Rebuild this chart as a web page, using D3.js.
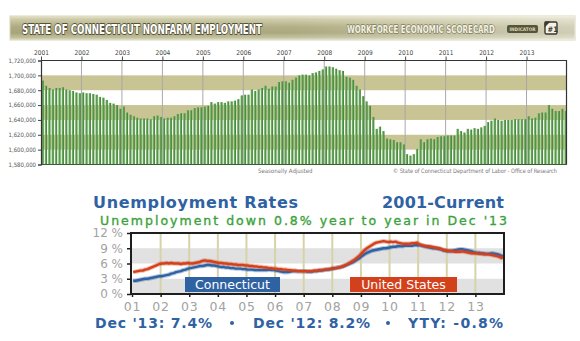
<!DOCTYPE html>
<html>
<head>
<meta charset="utf-8">
<script src="https://cdn.jsdelivr.net/npm/d3@7"></script>
<style>
  html, body { margin: 0; padding: 0; background: #ffffff; }
  svg { display: block; }
</style>
</head>
<body>
<svg id="chart" width="580" height="341"></svg>
<script>
// ---- Nonfarm employment, seasonally adjusted (thousands of jobs), Jan 2001 - Dec 2013 ----
const empYears = [2001, 2002, 2003, 2004, 2005, 2006, 2007, 2008, 2009, 2010, 2011, 2012, 2013];
const empTicks = [1580, 1600, 1620, 1640, 1660, 1680, 1700, 1720];
const employment = [
  1693, 1686, 1683, 1681, 1683, 1683, 1684, 1681, 1680, 1679, 1677, 1676,
  1677, 1676, 1676, 1675, 1674, 1671, 1670, 1667, 1663, 1662, 1660, 1655,
  1658, 1650, 1647, 1645, 1643, 1642, 1642, 1642, 1641, 1645, 1646, 1644,
  1642, 1643, 1643, 1645, 1648, 1649, 1649, 1653, 1653, 1656, 1657, 1657,
  1658, 1659, 1664, 1662, 1664, 1664, 1663, 1665, 1665, 1666, 1668, 1673,
  1674, 1674, 1681, 1679, 1681, 1683, 1686, 1682, 1685, 1685, 1691, 1692,
  1692, 1690, 1694, 1697, 1700, 1701, 1701, 1700, 1703, 1704, 1706, 1708,
  1712, 1712, 1711, 1709, 1707, 1706, 1698, 1697, 1694, 1686, 1681, 1672,
  1665, 1659, 1644, 1628, 1631, 1625, 1615, 1614, 1613, 1610, 1610, 1607,
  1594, 1592, 1594, 1601, 1614, 1610, 1614, 1615, 1614, 1617, 1618, 1618,
  1619, 1619, 1619, 1628, 1625, 1623, 1628, 1627, 1629, 1628, 1630, 1632,
  1637, 1639, 1642, 1640, 1639, 1640, 1640, 1640, 1641, 1641, 1641, 1641,
  1645, 1642, 1643, 1649, 1650, 1650, 1660, 1655, 1652, 1652, 1655, 1652
];

// ---- Unemployment rates (%), monthly Jan 2001 - Dec 2013 ----
const rateYearLabels = ["01", "02", "03", "04", "05", "06", "07", "08", "09", "10", "11", "12", "13"];
const rateTicks = [0, 3, 6, 9, 12];
const ctRate = [
  2.6, 2.6, 2.7, 2.8, 2.9, 3.0, 3.0, 3.1, 3.2, 3.3, 3.4, 3.5,
  3.5, 3.6, 3.7, 3.8, 4.0, 4.1, 4.3, 4.4, 4.5, 4.7, 4.8, 5.0,
  5.1, 5.2, 5.3, 5.4, 5.5, 5.5, 5.6, 5.7, 5.7, 5.6, 5.6, 5.5,
  5.4, 5.3, 5.3, 5.2, 5.2, 5.1, 5.1, 5.0, 5.0, 5.0, 4.9, 4.9,
  4.8, 4.8, 4.8, 4.7, 4.7, 4.7, 4.7, 4.7, 4.7, 4.8, 4.7, 4.7,
  4.6, 4.5, 4.4, 4.3, 4.3, 4.3, 4.4, 4.5, 4.5, 4.5, 4.5, 4.5,
  4.5, 4.4, 4.4, 4.4, 4.5, 4.5, 4.6, 4.6, 4.7, 4.8, 4.8, 4.9,
  5.0, 5.1, 5.2, 5.3, 5.4, 5.6, 5.8, 6.0, 6.2, 6.5, 6.8, 7.1,
  7.5, 7.8, 8.1, 8.3, 8.5, 8.6, 8.7, 8.8, 8.9, 9.0, 9.0, 9.1,
  9.2, 9.3, 9.3, 9.4, 9.4, 9.4, 9.5, 9.5, 9.5, 9.5, 9.6, 9.6,
  9.6, 9.5, 9.4, 9.3, 9.2, 9.1, 9.0, 9.0, 8.9, 8.8, 8.6, 8.5,
  8.4, 8.4, 8.5, 8.6, 8.7, 8.8, 8.8, 8.7, 8.6, 8.5, 8.4, 8.2,
  8.1, 8.1, 8.0, 8.0, 7.9, 7.9, 8.0, 8.0, 7.9, 7.8, 7.6, 7.4
];
const usRate = [
  4.3, 4.4, 4.5, 4.6, 4.6, 4.8, 4.9, 5.1, 5.3, 5.5, 5.7, 5.9,
  6.0, 6.0, 6.1, 6.0, 6.1, 6.0, 6.0, 6.0, 5.9, 6.0, 6.0, 6.1,
  6.0, 6.0, 6.1, 6.2, 6.3, 6.5, 6.6, 6.5, 6.5, 6.4, 6.3, 6.2,
  6.1, 6.1, 6.0, 6.0, 5.9, 5.9, 5.8, 5.8, 5.7, 5.7, 5.7, 5.6,
  5.6, 5.5, 5.5, 5.4, 5.4, 5.3, 5.3, 5.2, 5.2, 5.1, 5.1, 5.0,
  5.0, 4.9, 4.9, 4.8, 4.8, 4.7, 4.7, 4.6, 4.6, 4.5, 4.5, 4.5,
  4.5, 4.5, 4.5, 4.5, 4.6, 4.6, 4.7, 4.7, 4.8, 4.8, 4.9, 5.0,
  5.1, 5.1, 5.2, 5.3, 5.5, 5.7, 5.9, 6.2, 6.5, 6.8, 7.2, 7.6,
  8.1, 8.6, 9.0, 9.3, 9.6, 9.9, 10.1, 10.2, 10.3, 10.4, 10.3, 10.2,
  10.3, 10.2, 10.3, 10.1, 10.0, 9.9, 9.9, 9.9, 9.9, 10.0, 10.0, 10.1,
  9.8, 9.6, 9.5, 9.4, 9.4, 9.3, 9.2, 9.1, 9.0, 8.9, 8.7, 8.6,
  8.5, 8.5, 8.4, 8.3, 8.3, 8.3, 8.4, 8.3, 8.2, 8.1, 8.0, 8.0,
  8.0, 7.9, 7.9, 7.8, 7.8, 7.8, 7.7, 7.6, 7.5, 7.4, 7.2, 7.0
];

const narrow = "'Liberation Sans Narrow', 'DejaVu Sans Condensed', Arial, sans-serif";
const condensed = "'DejaVu Sans Condensed', 'DejaVu Sans', sans-serif";
const wide = "'DejaVu Sans', Verdana, sans-serif";

const svg = d3.select("#chart");
const defs = svg.append("defs");

// ---------- gradients ----------
const bannerGrad = defs.append("linearGradient").attr("id", "bannerGrad")
  .attr("x1", 0).attr("y1", 0).attr("x2", 0).attr("y2", 1);
[[0, "#e9e8d3"], [0.12, "#cfcca9"], [0.45, "#aeab80"], [0.7, "#a7a479"], [0.9, "#c2bf9c"], [1, "#e2e1cb"]]
  .forEach(([o, c]) => bannerGrad.append("stop").attr("offset", o).attr("stop-color", c));

const bannerShine = defs.append("linearGradient").attr("id", "bannerShine")
  .attr("x1", 0).attr("y1", 0).attr("x2", 1).attr("y2", 0);
[[0, 0], [0.5, 0.05], [1, 0.45]]
  .forEach(([o, a]) => bannerShine.append("stop").attr("offset", o).attr("stop-color", "#ffffff").attr("stop-opacity", a));

const barGrad = defs.append("linearGradient").attr("id", "barGrad")
  .attr("x1", 0).attr("y1", 0).attr("x2", 1).attr("y2", 0);
[[0, "#9ad08b"], [0.4, "#62a455"], [1, "#3c7a33"]]
  .forEach(([o, c]) => barGrad.append("stop").attr("offset", o).attr("stop-color", c));

// ---------- banner ----------
const banner = svg.append("g");
banner.append("rect").attr("x", 10).attr("y", 16).attr("width", 565).attr("height", 24)
  .attr("fill", "url(#bannerGrad)").attr("stroke", "#d8d6bd").attr("stroke-width", 1);
banner.append("rect").attr("x", 10).attr("y", 16).attr("width", 565).attr("height", 24)
  .attr("fill", "url(#bannerShine)");

// tall condensed lettering: small font stretched vertically
banner.append("g").attr("transform", "translate(22,33.5) scale(1,1.5)")
  .append("text").attr("x", 0).attr("y", 0)
  .attr("textLength", 240).attr("lengthAdjust", "spacingAndGlyphs")
  .attr("font-family", condensed).attr("font-weight", "bold").attr("font-size", 9.5)
  .attr("fill", "#ffffff").attr("stroke", "#55523a").attr("stroke-width", 1.2)
  .attr("paint-order", "stroke").attr("stroke-linejoin", "round")
  .text("STATE OF CONNECTICUT NONFARM EMPLOYMENT");
banner.append("g").attr("transform", "translate(347,33) scale(1,1.3)")
  .append("text").attr("x", 0).attr("y", 0)
  .attr("textLength", 148).attr("lengthAdjust", "spacingAndGlyphs")
  .attr("font-family", condensed).attr("font-weight", "bold").attr("font-size", 7.5)
  .attr("fill", "#f3f2e4").attr("stroke", "#7f7c5a").attr("stroke-width", 1)
  .attr("paint-order", "stroke").attr("stroke-linejoin", "round")
  .text("WORKFORCE ECONOMIC SCORECARD");
banner.append("rect").attr("x", 507).attr("y", 25).attr("width", 31).attr("height", 8).attr("rx", 2)
  .attr("fill", "#56543a");
banner.append("text").attr("x", 509.5).attr("y", 31)
  .attr("textLength", 26).attr("lengthAdjust", "spacingAndGlyphs")
  .attr("font-family", narrow).attr("font-weight", "bold").attr("font-size", 4.8)
  .attr("fill", "#d9d7b6").text("INDICATOR");
// "#1" badge
banner.append("rect").attr("x", 545).attr("y", 22).attr("width", 12).attr("height", 12).attr("rx", 1.5)
  .attr("fill", "#f2f2ea").attr("stroke", "#3b3a2b").attr("stroke-width", 1.4);
banner.append("path").attr("d", "M544.5,21.5 h6 l-6,6 z").attr("fill", "#3b3a2b");
banner.append("text").attr("x", 547.5).attr("y", 32)
  .attr("font-family", narrow).attr("font-weight", "bold").attr("font-size", 7.5)
  .attr("fill", "#3b3a2b").text("#1");

// ---------- employment chart ----------
const eLeft = 41, eRight = 567, eTop = 60.5, eBottom = 164.5;
const ex = d3.scaleBand().domain(d3.range(employment.length)).range([eLeft, eRight])
  .paddingInner(0.3).paddingOuter(0.1);
const eYear = d3.scaleLinear().domain([empYears[0], empYears[empYears.length - 1] + 1]).range([eLeft, eRight]);
const ey = d3.scaleLinear().domain([empTicks[0], empTicks[empTicks.length - 1]]).range([eBottom, eTop]);

const eg = svg.append("g");
// alternating horizontal bands
for (let k = 1; k < empTicks.length - 1; k += 2) {
  eg.append("rect").attr("x", eLeft).attr("width", eRight - eLeft)
    .attr("y", ey(empTicks[k + 1])).attr("height", ey(empTicks[k]) - ey(empTicks[k + 1]))
    .attr("fill", "#c8c493");
}
// yearly gridlines
eg.selectAll("line.yr").data(empYears.slice(1)).join("line").attr("class", "yr")
  .attr("x1", d => eYear(d)).attr("x2", d => eYear(d))
  .attr("y1", eTop).attr("y2", eBottom)
  .attr("stroke", "#a9a9a9").attr("stroke-width", 1);
// bars
eg.selectAll("rect.bar").data(employment).join("rect").attr("class", "bar")
  .attr("x", (d, i) => ex(i)).attr("width", ex.bandwidth())
  .attr("y", d => ey(d)).attr("height", d => eBottom - ey(d))
  .attr("fill", "url(#barGrad)");

// frame
eg.append("line").attr("x1", eLeft).attr("x2", eRight).attr("y1", eTop).attr("y2", eTop)
  .attr("stroke", "#333").attr("stroke-width", 1.2);
eg.append("line").attr("x1", eRight - 0.5).attr("x2", eRight - 0.5).attr("y1", eTop).attr("y2", eBottom)
  .attr("stroke", "#333").attr("stroke-width", 1.2);
eg.append("line").attr("x1", eLeft).attr("x2", eRight).attr("y1", eBottom).attr("y2", eBottom)
  .attr("stroke", "#3b5d35").attr("stroke-width", 1);

// axes
const eTopAxis = svg.append("g").attr("transform", `translate(0,${eTop})`)
  .call(d3.axisTop(eYear).tickValues(empYears).tickFormat(d3.format("d")).tickSize(4).tickPadding(2));
eTopAxis.select(".domain").remove();
eTopAxis.selectAll("line").attr("stroke", "#444");
eTopAxis.selectAll("text").attr("font-family", narrow).attr("font-size", 6.5).attr("fill", "#444");

const eLeftAxis = svg.append("g").attr("transform", `translate(${eLeft},0)`)
  .call(d3.axisLeft(ey).tickValues(empTicks).tickFormat(d => d3.format(",")(d * 1000)).tickSize(3).tickPadding(2));
eLeftAxis.select(".domain").attr("stroke", "#333").attr("stroke-width", 1.2);
eLeftAxis.selectAll("line").attr("stroke", "#444");
eLeftAxis.selectAll("text").attr("font-family", narrow).attr("font-size", 6).attr("fill", "#555");

svg.append("text").attr("x", 258).attr("y", 172.5)
  .attr("font-family", narrow).attr("font-size", 6).attr("fill", "#777")
  .text("Seasonally Adjusted");
svg.append("text").attr("x", 393).attr("y", 172.5)
  .attr("textLength", 164).attr("lengthAdjust", "spacingAndGlyphs")
  .attr("font-family", narrow).attr("font-size", 6).attr("fill", "#777")
  .text("© State of Connecticut Department of Labor - Office of Research");

// ---------- unemployment chart ----------
const blue = "#2f62a3", red = "#d3411c", green = "#39a23a";

svg.append("text").attr("x", 93).attr("y", 208)
  .attr("textLength", 205).attr("lengthAdjust", "spacing")
  .attr("font-family", wide).attr("font-weight", "bold").attr("font-size", 16)
  .attr("fill", blue).text("Unemployment Rates");
svg.append("text").attr("x", 382).attr("y", 208)
  .attr("textLength", 122).attr("lengthAdjust", "spacing")
  .attr("font-family", wide).attr("font-weight", "bold").attr("font-size", 16)
  .attr("fill", blue).text("2001-Current");
svg.append("text").attr("x", 100).attr("y", 224.5)
  .attr("textLength", 407).attr("lengthAdjust", "spacing")
  .attr("font-family", wide).attr("font-size", 12.5)
  .attr("fill", green).attr("stroke", green).attr("stroke-width", 0.35)
  .text("Unemployment down 0.8% year to year in Dec '13");

const rLeft = 132, rRight = 504, rTop = 233, rBottom = 294;
const rx = d3.scaleLinear().domain([0, ctRate.length]).range([rLeft, rRight]);
const ry = d3.scaleLinear().domain([rateTicks[0], rateTicks[rateTicks.length - 1]]).range([rBottom, rTop]);

const rg = svg.append("g");
for (let k = 0; k < rateTicks.length - 1; k += 2) {
  rg.append("rect").attr("x", rLeft).attr("width", rRight - rLeft)
    .attr("y", ry(rateTicks[k + 1])).attr("height", ry(rateTicks[k]) - ry(rateTicks[k + 1]))
    .attr("fill", "#e1e1e1");
}
rg.selectAll("line.yr").data(d3.range(1, rateYearLabels.length)).join("line").attr("class", "yr")
  .attr("x1", d => rx(d * 12)).attr("x2", d => rx(d * 12))
  .attr("y1", rTop).attr("y2", rBottom)
  .attr("stroke", "#d7d3a8").attr("stroke-width", 2);

const line = d3.line().x((d, i) => rx(i + 0.5)).y(d => ry(d));
[[ctRate, blue], [usRate, red]].forEach(([series, color]) => {
  rg.append("path").datum(series).attr("d", line)
    .attr("fill", "none").attr("stroke", color).attr("stroke-opacity", 0.35)
    .attr("stroke-width", 4.5).attr("stroke-linejoin", "round");
  rg.append("path").datum(series).attr("d", line)
    .attr("fill", "none").attr("stroke", color)
    .attr("stroke-width", 2.4).attr("stroke-linejoin", "round");
});

// series labels
const labels = [
  { text: "Connecticut", x: 185, w: 95, color: blue },
  { text: "United States", x: 350, w: 107, color: red }
];
labels.forEach(l => {
  rg.append("rect").attr("x", l.x).attr("y", 277).attr("width", l.w).attr("height", 15)
    .attr("fill", l.color);
  rg.append("text").attr("x", l.x + l.w / 2).attr("y", 289)
    .attr("text-anchor", "middle")
    .attr("font-family", wide).attr("font-size", 12.5).attr("fill", "#ffffff")
    .text(l.text);
});

// frame
rg.append("rect").attr("x", rLeft - 1).attr("y", rTop).attr("width", rRight - rLeft + 1).attr("height", rBottom - rTop)
  .attr("fill", "none").attr("stroke", "#1e1e1e").attr("stroke-width", 2);

const rLeftAxis = svg.append("g").attr("transform", `translate(${rLeft - 1},0)`)
  .call(d3.axisLeft(ry).tickValues(rateTicks).tickFormat(d => d + " %").tickSize(4).tickPadding(4));
rLeftAxis.select(".domain").remove();
rLeftAxis.selectAll("line").attr("stroke", "#1e1e1e").attr("stroke-width", 1.5);
rLeftAxis.selectAll("text").attr("font-family", wide).attr("font-size", 12).attr("fill", "#a2a2a2");

const rBottomAxis = svg.append("g").attr("transform", `translate(0,${rBottom})`)
  .call(d3.axisBottom(rx).tickValues(d3.range(rateYearLabels.length).map(k => k * 12))
    .tickFormat((d, i) => rateYearLabels[i]).tickSize(3).tickPadding(5));
rBottomAxis.select(".domain").remove();
rBottomAxis.selectAll("line").attr("stroke", "#1e1e1e").attr("stroke-width", 1.5);
rBottomAxis.selectAll("text").attr("font-family", wide).attr("font-size", 12.5)
  .attr("letter-spacing", 0.8).attr("fill", "#a2a2a2");

// summary line
const summary = [
  { text: "Dec '13: 7.4%", x: 95, w: 117 },
  { text: "Dec '12: 8.2%", x: 253, w: 117 },
  { text: "YTY: -0.8%", x: 408, w: 95 }
];
summary.forEach(s => {
  svg.append("text").attr("x", s.x).attr("y", 328)
    .attr("textLength", s.w).attr("lengthAdjust", "spacing")
    .attr("font-family", wide).attr("font-weight", "bold").attr("font-size", 14)
    .attr("fill", blue).text(s.text);
});
[232, 388].forEach(cx => {
  svg.append("circle").attr("cx", cx).attr("cy", 323).attr("r", 2).attr("fill", blue);
});
</script>
</body>
</html>
